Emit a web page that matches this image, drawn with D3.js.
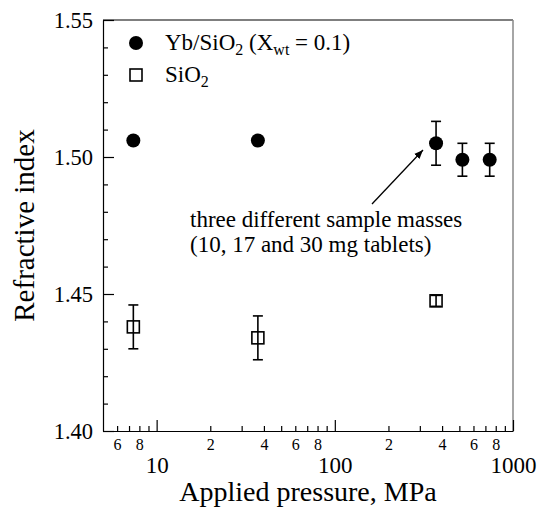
<!DOCTYPE html>
<html>
  <head>
    <script src="https://d3js.org/d3.v7.min.js"></script>
    <style>
      body { margin: 0; background: #fff; }
      text { font-family: "Liberation Serif", "Times New Roman", serif; fill: #000; }
    </style>
  </head>
  <body>
    <div id="vis"></div>
    <script>
      // data
      var ybPressure = [7.4, 37, 370, 520, 740];
      var ybIndex = [1.506, 1.506, 1.505, 1.499, 1.499];
      var ybErr = [0, 0, 0.008, 0.006, 0.006];

      var sioPressure = [7.4, 37, 370];
      var sioIndex = [1.438, 1.434, 1.4475];
      var sioErr = [0.008, 0.008, 0.002];

      var yMajor = [1.40, 1.45, 1.50, 1.55];
      var yMinor = [1.41, 1.42, 1.43, 1.44, 1.46, 1.47, 1.48, 1.49, 1.51, 1.52, 1.53, 1.54];
      var xMajor = [10, 100, 1000];
      var xMinor = [6, 7, 8, 9, 20, 30, 40, 50, 60, 70, 80, 90, 200, 300, 400, 500, 600, 700, 800, 900];
      var xMinorLabels = [6, 8, 20, 40, 60, 80, 200, 400, 600, 800];

      var width = 537, height = 507;
      var pLeft = 103, pRight = 513, pTop = 20, pBottom = 431;

      var svg = d3.select("#vis").append("svg")
        .attr("width", width)
        .attr("height", height);

      var x = d3.scaleLog().domain([5, 1000]).range([pLeft, pRight]);
      var y = d3.scaleLinear().domain([1.40, 1.55]).range([pBottom, pTop]);

      // frame: top black, right grey
      svg.append("line").attr("x1", pLeft).attr("x2", pRight).attr("y1", pTop).attr("y2", pTop)
        .attr("stroke", "#000").attr("stroke-width", 1.2);
      svg.append("line").attr("x1", pRight).attr("x2", pRight).attr("y1", pTop).attr("y2", pBottom)
        .attr("stroke", "#888").attr("stroke-width", 1.5);

      // y axis
      svg.append("g")
        .attr("transform", "translate(" + pLeft + ",0)")
        .call(d3.axisLeft(y).tickValues(yMinor).tickSize(-5).tickSizeOuter(0).tickFormat(""))
        .call(function(g) { g.selectAll("line").attr("stroke-width", 1.2); g.select(".domain").attr("stroke-width", 1.2); });
      svg.append("g")
        .attr("transform", "translate(" + pLeft + ",0)")
        .call(d3.axisLeft(y).tickValues(yMajor).tickSize(-11).tickSizeOuter(0).tickPadding(10)
          .tickFormat(d3.format(".2f")))
        .call(function(g) {
          g.select(".domain").remove();
          g.selectAll("line").attr("stroke-width", 1.2);
          g.selectAll("text").attr("font-size", 22.5).attr("font-family", "Liberation Serif").attr("fill", "#000");
        });

      // x axis
      svg.append("g")
        .attr("transform", "translate(0," + pBottom + ")")
        .call(d3.axisBottom(x).tickValues(xMinor).tickSize(-5).tickSizeOuter(0).tickPadding(8)
          .tickFormat(function(d) { return xMinorLabels.indexOf(d) >= 0 ? String(d).charAt(0) : ""; }))
        .call(function(g) {
          g.selectAll("line").attr("stroke-width", 1.2);
          g.select(".domain").attr("stroke-width", 1.2);
          g.selectAll("text").attr("font-size", 16).attr("font-family", "Liberation Serif").attr("fill", "#000");
        });
      svg.append("g")
        .attr("transform", "translate(0," + pBottom + ")")
        .call(d3.axisBottom(x).tickValues(xMajor).tickSize(-11).tickSizeOuter(0).tickPadding(26)
          .tickFormat(d3.format("d")))
        .call(function(g) {
          g.select(".domain").remove();
          g.selectAll("line").attr("stroke-width", 1.2);
          g.selectAll("text").attr("font-size", 23).attr("font-family", "Liberation Serif").attr("fill", "#000");
        });

      // axis titles
      svg.append("text")
        .attr("x", (pLeft + pRight) / 2).attr("y", 501)
        .attr("text-anchor", "middle").attr("font-size", 28)
        .text("Applied pressure, MPa");
      svg.append("text")
        .attr("transform", "translate(34," + ((pTop + pBottom) / 2) + ") rotate(-90)")
        .attr("text-anchor", "middle").attr("font-size", 29)
        .text("Refractive index");

      // error bars
      function errBars(px, py, pe) {
        var g = svg.append("g").attr("stroke", "#000").attr("stroke-width", 1.6);
        px.forEach(function(p, i) {
          if (!pe[i]) return;
          var cx = x(p), y1 = y(py[i] + pe[i]), y2 = y(py[i] - pe[i]);
          g.append("line").attr("x1", cx).attr("x2", cx).attr("y1", y1).attr("y2", y2);
          g.append("line").attr("x1", cx - 5).attr("x2", cx + 5).attr("y1", y1).attr("y2", y1);
          g.append("line").attr("x1", cx - 5).attr("x2", cx + 5).attr("y1", y2).attr("y2", y2);
        });
      }
      errBars(ybPressure, ybIndex, ybErr);
      errBars(sioPressure, sioIndex, sioErr);

      svg.append("g").selectAll("circle")
        .data(ybPressure)
        .enter().append("circle")
        .attr("cx", function(d) { return x(d); })
        .attr("cy", function(d, i) { return y(ybIndex[i]); })
        .attr("r", 7)
        .attr("fill", "#000");

      svg.append("g").selectAll("rect")
        .data(sioPressure)
        .enter().append("rect")
        .attr("x", function(d) { return x(d) - 6; })
        .attr("y", function(d, i) { return y(sioIndex[i]) - 6; })
        .attr("width", 12).attr("height", 12)
        .attr("fill", "none").attr("stroke", "#000").attr("stroke-width", 1.6);

      // legend
      svg.append("circle").attr("cx", 136).attr("cy", 43).attr("r", 7).attr("fill", "#000");
      svg.append("rect").attr("x", 130).attr("y", 69).attr("width", 12).attr("height", 12)
        .attr("fill", "none").attr("stroke", "#000").attr("stroke-width", 1.6);

      var l1 = svg.append("text").attr("x", 165).attr("y", 50).attr("font-size", 23);
      l1.append("tspan").text("Yb/SiO");
      l1.append("tspan").attr("font-size", 16).attr("dy", 5).text("2");
      l1.append("tspan").attr("dy", -5).text(" (X");
      l1.append("tspan").attr("font-size", 16).attr("dy", 5).text("wt");
      l1.append("tspan").attr("dy", -5).text(" = 0.1)");

      var l2 = svg.append("text").attr("x", 165).attr("y", 82).attr("font-size", 23);
      l2.append("tspan").text("SiO");
      l2.append("tspan").attr("font-size", 16).attr("dy", 5).text("2");

      // annotation
      svg.append("defs").append("marker")
        .attr("id", "arrow").attr("viewBox", "0 0 10 10")
        .attr("refX", 10).attr("refY", 5)
        .attr("markerWidth", 9).attr("markerHeight", 9)
        .attr("markerUnits", "userSpaceOnUse")
        .attr("orient", "auto")
        .append("path").attr("d", "M0,1 L10,5 L0,9 Z").attr("fill", "#000");
      svg.append("line")
        .attr("x1", 372).attr("y1", 204).attr("x2", 423).attr("y2", 150)
        .attr("stroke", "#000").attr("stroke-width", 1.3)
        .attr("marker-end", "url(#arrow)");
      svg.append("text").attr("x", 190).attr("y", 227).attr("font-size", 23)
        .text("three different sample masses");
      svg.append("text").attr("x", 190).attr("y", 252).attr("font-size", 23)
        .text("(10, 17 and 30 mg tablets)");
    </script>
  </body>
</html>
